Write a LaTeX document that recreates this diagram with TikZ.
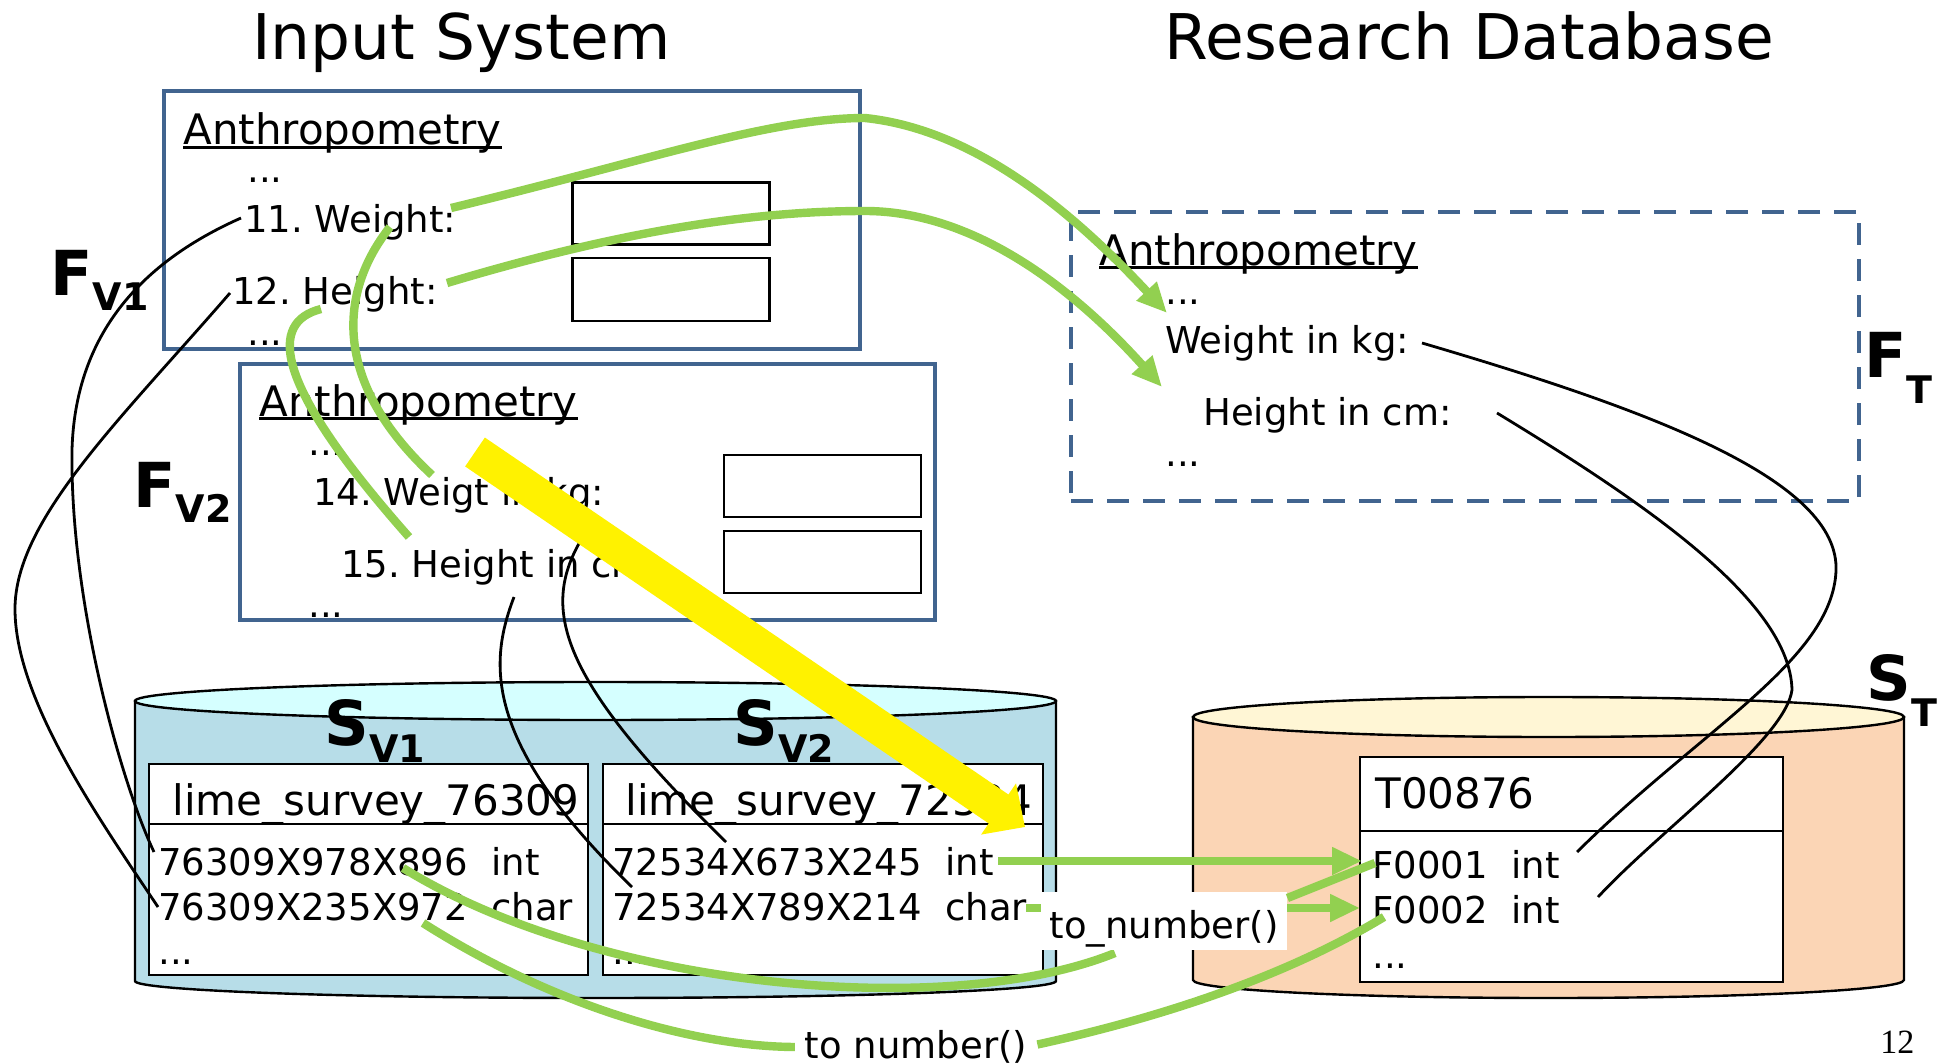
\documentclass[tikz,border=0pt]{standalone}
\usepackage{fontspec}
\setmainfont{DejaVu Sans}
\newfontfamily\pagefont{Liberation Serif}
\usetikzlibrary{arrows.meta}
\definecolor{formblue}{HTML}{41648F}
\definecolor{mapgreen}{HTML}{92D050}
\definecolor{svside}{HTML}{B7DDE8}
\definecolor{svtop}{HTML}{D5FFFF}
\definecolor{stside}{HTML}{FBD5B5}
\definecolor{sttop}{HTML}{FFF6D5}
\newcommand{\ulhead}[1]{\setbox0=\hbox{#1}\rlap{\rule[-0.09em]{\wd0}{0.06em}}\box0}
\newcommand{\symlab}[3]{#1\raisebox{-#3}{\fontsize{19}{19}\selectfont #2}}
\tikzset{
  formbox/.style={draw=formblue, line width=2pt, inner sep=0pt},
  fieldbox/.style={draw, line width=1.2pt, inner sep=0pt},
  tablebox/.style={draw, fill=white, line width=1.2pt, inner sep=0pt},
  txt/.style={anchor=base west, inner sep=0pt, font=\fontsize{18.5}{22}\selectfont},
  headtxt/.style={txt, font=\fontsize{21}{25}\selectfont},
  titletxt/.style={txt, font=\fontsize{31.5}{36}\selectfont},
  biglabel/.style={anchor=base west, inner sep=0pt, font=\bfseries\fontsize{31}{36}\selectfont},
  labelbox/.style={fill=white, inner sep=0pt, text depth=2.4pt, font=\fontsize{18.5}{22}\selectfont},
  blackline/.style={line width=1.4pt},
  greenline/.style={draw=mapgreen, line width=4.2pt},
  greenarrow/.style={greenline, -{Triangle[width=13pt,length=15pt]}},
}
\begin{document}
\frenchspacing
\begin{tikzpicture}[x=0.5pt,y=-0.5pt]
\useasboundingbox (0,0) rectangle (1948,1064);
% titles
\node[titletxt] (intitle) at (252,60) {Input System};
\node[titletxt] (dbtitle) at (1164,60) {Research Database};

% forms
\node[formbox, minimum width=348pt, minimum height=129pt] (fv1) at (512,220) {};
\node[fieldbox, minimum width=98.5pt, minimum height=31pt] (fv1a) at (671,213.5) {};
\node[fieldbox, minimum width=98.5pt, minimum height=31.5pt] (fv1b) at (671,289.5) {};
\node[formbox, minimum width=347.5pt, minimum height=128pt] (fv2) at (587.5,492) {};
\node[fieldbox, minimum width=98.5pt, minimum height=31pt] (fv2a) at (822.5,486) {};
\node[fieldbox, minimum width=98.5pt, minimum height=31pt] (fv2b) at (822.5,562) {};
\node[formbox, dash pattern=on 11pt off 7pt, minimum width=394pt, minimum height=144.5pt] (ft) at (1465,356.5) {};

\node[headtxt] (h1) at (183,145) {\ulhead{Anthropometry}};
\node[txt] (d1a) at (247,183) {...};
\node[txt] (w11) at (244,233) {11. Weight:};
\node[txt] (h12) at (232,305) {12. Height:};
\node[txt] (d1b) at (247,345) {...};
\node[headtxt] (h2) at (259,416) {\ulhead{Anthropometry}};
\node[txt] (d2a) at (308,455) {...};
\node[txt] (w14) at (313,505) {14. Weigt in kg:};
\node[txt] (h15) at (341,577) {15. Height in cm:};
\node[txt] (d2b) at (308,617) {...};
\node[headtxt] (hT) at (1099,265) {\ulhead{Anthropometry}};
\node[txt] (dTa) at (1165,305) {...};
\node[txt] (wT) at (1165,353) {Weight in kg:};
\node[txt] (hTb) at (1203,425) {Height in cm:};
\node[txt] (dTb) at (1165,466) {...};

% databases
\filldraw[fill=svside, line width=1.2pt] (135,701) -- (135,981) arc[start angle=180, end angle=360, x radius=230.25pt, y radius=8.5pt] -- (1056,701) -- cycle;
\filldraw[fill=svtop, line width=1.2pt] (595.5,701) ellipse[x radius=230.25pt, y radius=9.5pt];
\filldraw[fill=stside, line width=1.2pt] (1193,717) -- (1193,980) arc[start angle=180, end angle=360, x radius=177.75pt, y radius=9pt] -- (1904,717) -- cycle;
\filldraw[fill=sttop, line width=1.2pt] (1548.5,717) ellipse[x radius=177.75pt, y radius=10pt];

\node[tablebox, minimum width=219.5pt, minimum height=105.5pt] (tab1) at (368.5,869.5) {};
\node[tablebox, minimum width=220pt, minimum height=105.5pt] (tab2) at (823,869.5) {};
\node[tablebox, minimum width=211.5pt, minimum height=112.5pt] (tabT) at (1571.5,869.5) {};
\draw[line width=1.2pt] (149,824) -- (588,824);
\draw[line width=1.2pt] (603,824) -- (1043,824);
\draw[line width=1.2pt] (1360,831) -- (1783,831);

\node[headtxt] (t1h) at (172,815) {lime\_survey\_76309};
\node[txt] (t1a) at (158,875) {76309X978X896~~int};
\node[txt] (t1b) at (158,920) {76309X235X972~~char};
\node[txt] (t1c) at (158,964) {...};
\node[headtxt] (t2h) at (625,815) {lime\_survey\_72534};
\node[txt] (t2a) at (612,875) {72534X673X245~~int};
\node[txt] (t2b) at (612,920) {72534X789X214~~char};
\node[txt] (t2c) at (612,964) {...};
\node[headtxt] (tTh) at (1375,808) {T00876};
\node[txt] (tTa) at (1372,878) {F0001~~int};
\node[txt] (tTb) at (1372,923) {F0002~~int};
\node[txt] (tTc) at (1372,968) {...};

% connector ends
\coordinate (w11l) at (241,218);   \coordinate (t1al) at (154,852);
\coordinate (h12l) at (230,293);   \coordinate (t1bl) at (158,907);
\coordinate (w14m) at (581,540);   \coordinate (t2al) at (726,842);
\coordinate (h15m) at (514,597);   \coordinate (t2bl) at (632,887);
\coordinate (wTr) at (1422,343);   \coordinate (tTar) at (1577,852);
\coordinate (hTr) at (1497,413);   \coordinate (tTbr) at (1598,897);
\coordinate (w11r) at (451,208);   \coordinate (dTatip) at (1167,313);
\coordinate (h12r) at (447,283);   \coordinate (hTtip) at (1162,387);
\coordinate (w11m) at (390,227);   \coordinate (w14t) at (432,475);
\coordinate (h12m) at (321,309);   \coordinate (h15t) at (409,537);
\coordinate (t2ar) at (998,861);   \coordinate (tTatip) at (1362,861);
\coordinate (t2br) at (1026,908);  \coordinate (tTbtip) at (1360,908);
\coordinate (t1am) at (403,868);   \coordinate (tTal) at (1375,863);
\coordinate (t1bm) at (423,923);   \coordinate (tTbl) at (1384,917);
\coordinate (yfrom) at (475,452);  \coordinate (yto) at (1025,827);

% black mappings
\draw[blackline] (w11l) .. controls (135,265) and (75,340) .. (72,450) .. controls (70,600) and (120,780) .. (t1al);
\draw[blackline] (h12l) .. controls (120,420) and (15,520) .. (15,609) .. controls (15,700) and (100,820) .. (t1bl);
\draw[blackline] (w14m) .. controls (540,610) and (560,680) .. (t2al);
\draw[blackline] (h15m) .. controls (490,660) and (480,740) .. (t2bl);
\draw[blackline] (wTr) .. controls (1650,410) and (1840,480) .. (1836,571) .. controls (1832,660) and (1700,730) .. (tTar);
\draw[blackline] (hTr) .. controls (1640,500) and (1790,600) .. (1792,690) .. controls (1785,740) and (1660,830) .. (tTbr);

% green mappings
\draw[greenarrow] (w11r) .. controls (650,160) and (770,118) .. (865,118) .. controls (980,130) and (1080,220) .. (dTatip);
\draw[greenarrow] (h12r) .. controls (640,225) and (770,211) .. (865,211) .. controls (975,211) and (1075,290) .. (hTtip);
\draw[greenline] (w11m) .. controls (340,290) and (330,380) .. (w14t);
\draw[greenline] (h12m) .. controls (270,322) and (270,380) .. (h15t);
\draw[greenarrow] (t2ar) -- (tTatip);
\draw[greenarrow] (t2br) -- (tTbtip);
\draw[greenline] (t1am) .. controls (600,990) and (950,1020) .. (1115,953);
\node[labelbox, text height=19.4pt, minimum width=123pt, minimum height=29pt] (conv1) at (1164,921) {to\_number()};
\draw[greenline] (conv1.east) ++(0,-23) coordinate (conv1o) -- (tTal);
\draw[greenline] (t1bm) .. controls (560,1010) and (700,1047) .. (797,1047);
\node[labelbox, text height=16pt, minimum width=121pt, minimum height=19.5pt] (conv2) at (916,1044.5) {to number()};
\draw[greenline] (conv2.east) .. controls (1150,1020) and (1280,980) .. (tTbl);

% big arrow
\draw[yellow, line width=17.5pt, -{Triangle[width=30pt,length=16pt]}] (yfrom) -- (yto);

% labels
\node[biglabel] (fv1lab) at (50,295) {\symlab{F}{V1}{7.5pt}};
\node[biglabel] (fv2lab) at (133,507) {\symlab{F}{V2}{7.5pt}};
\node[biglabel] (ftlab) at (1864,377) {\symlab{F}{T}{13pt}};
\node[biglabel] (sv1lab) at (324,745) {\symlab{S}{V1}{8.5pt}};
\node[biglabel] (sv2lab) at (733,745) {\symlab{S}{V2}{8.5pt}};
\node[biglabel] (stlab) at (1866,700) {\symlab{S}{T}{13pt}};
\node[anchor=base west, inner sep=0pt, font=\pagefont\fontsize{17}{20}\selectfont] (pagenum) at (1880,1053) {12};
\end{tikzpicture}
\end{document}
